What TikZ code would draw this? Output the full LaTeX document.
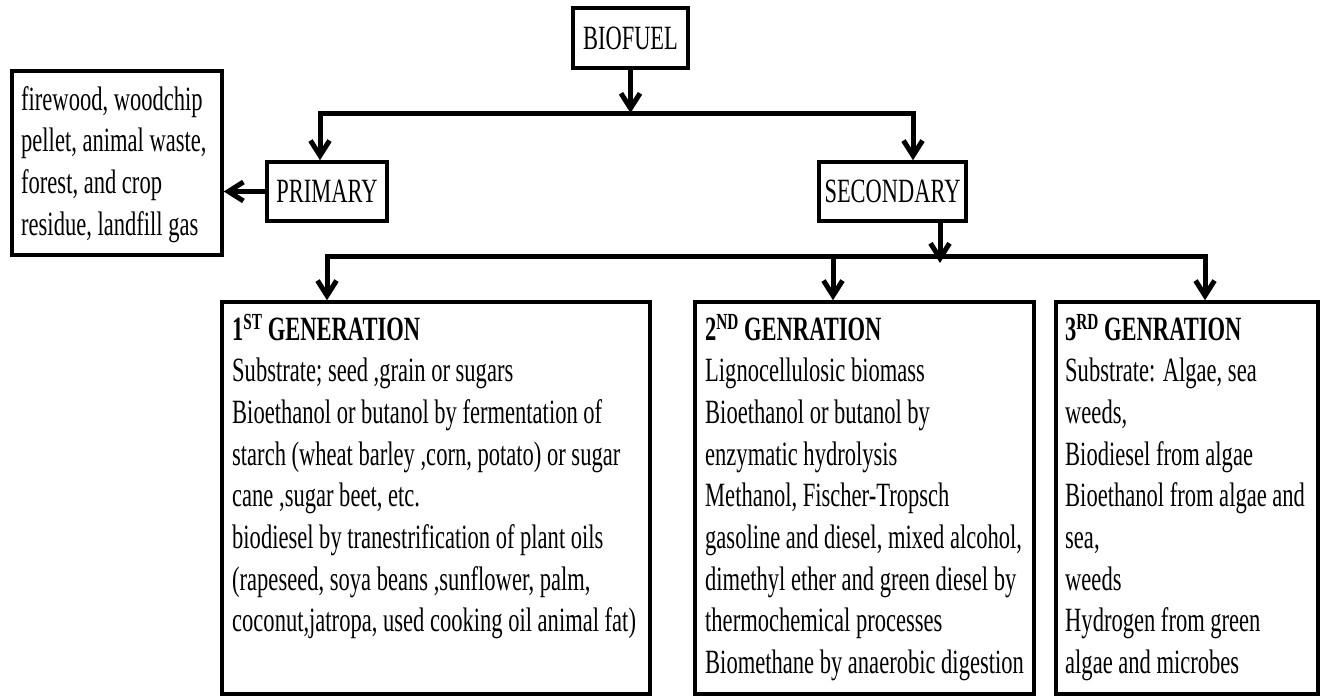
\documentclass[tikz,border=0pt]{standalone}
\usepackage{fontspec}
\setmainfont{Liberation Serif}
\usetikzlibrary{arrows.meta}
\newcommand\supx[1]{\raisebox{0.3em}{\fontsize{23}{23}\selectfont #1}}
\newcommand\nar[1]{\scalebox{0.66}[1]{#1}}
\newcommand\ml[1]{\scalebox{0.663}[1]{\vtop{\baselineskip=41.7pt\lineskiplimit=-100pt\halign{##\hfil\cr#1\crcr}}}}
\begin{document}
\begin{tikzpicture}[x=1pt,y=-1pt,
  box/.style={draw, line width=3.5pt, inner sep=0pt, font=\fontsize{34}{41.7}\selectfont},
  conn/.style={line width=5pt},
  arr/.style={conn, -{Straight Barb[length=15pt,width=19pt]}},
  txt/.style={inner sep=0pt, anchor=base west, font=\fontsize{34}{41.7}\selectfont}
]
\useasboundingbox (0,0) rectangle (1322,696);
% boxes
\node[box, minimum width=115pt, minimum height=60pt] (bio) at (630.5,38) {\nar{BIOFUEL}};
\node[box, minimum width=120pt, minimum height=59pt] (prim) at (327,191.5) {\nar{PRIMARY}};
\node[box, minimum width=147pt, minimum height=59pt] (sec) at (892.5,191.5) {\nar{SECONDARY}};
\node[box, minimum width=210pt, minimum height=184pt] (lb) at (117,163) {};
\node[box, minimum width=428pt, minimum height=392pt] (g1) at (436,498) {};
\node[box, minimum width=339pt, minimum height=392pt] (g2) at (864.5,498) {};
\node[box, minimum width=262pt, minimum height=392pt] (g3) at (1187,498) {};
% texts
\node[txt] (lbt) at (21,110) {\ml{firewood, woodchip\cr pellet, animal waste,\cr forest, and crop\cr residue, landfill gas}};
\node[txt] (g1t) at (232,340) {\ml{\textbf{1\supx{ST} GENERATION}\cr Substrate; seed ,grain or sugars\cr Bioethanol or butanol by fermentation of\cr starch (wheat barley ,corn, potato) or sugar\cr cane ,sugar beet, etc.\cr biodiesel by tranestrification of plant oils\cr (rapeseed, soya beans ,sunflower, palm,\cr coconut,jatropa, used cooking oil animal fat)}};
\node[txt] (g2t) at (705,340) {\ml{\textbf{2\supx{ND} GENRATION}\cr Lignocellulosic biomass\cr Bioethanol or butanol by\cr enzymatic hydrolysis\cr Methanol, Fischer-Tropsch\cr gasoline and diesel, mixed alcohol,\cr dimethyl ether and green diesel by\cr thermochemical processes\cr Biomethane by anaerobic digestion}};
\node[txt] (g3t) at (1065,340) {\ml{\textbf{3\supx{RD} GENRATION}\cr Substrate: Algae, sea\cr weeds,\cr Biodiesel from algae\cr Bioethanol from algae and\cr sea,\cr weeds\cr Hydrogen from green\cr algae and microbes}};
% connectors
\coordinate (j1) at (630.5,113);
\coordinate (pb) at (320,113);
\coordinate (sb) at (913,113);
\draw[arr] (bio.south) -- (j1);
\draw[arr] (j1) -- (pb) -- (pb |- prim.north);
\draw[arr] (j1) -- (sb) -- (sb |- sec.north);
\draw[arr] (prim.west) -- (prim.west -| lb.east);
\coordinate (j2) at (940,256);
\coordinate (j2t) at (940,263);
\coordinate (l1) at (327,256);
\coordinate (l2) at (833,256);
\coordinate (l3) at (1205,256);
\draw[arr] (sec.south -| j2) -- (j2t);
\draw[arr] (j2) -- (l1) -- (l1 |- g1.north);
\draw[arr] (j2) -- (l3) -- (l3 |- g3.north);
\draw[arr] (l2) -- (l2 |- g2.north);
\end{tikzpicture}
\end{document}
